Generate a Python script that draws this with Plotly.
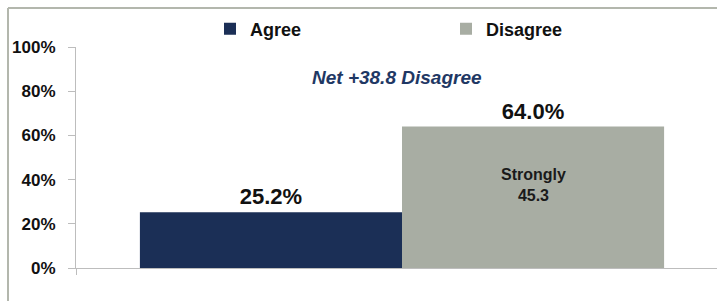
import plotly.graph_objects as go

# ---- data ----
categories = ["Agree", "Disagree"]
values = [25.2, 64.0]
value_labels = ["25.2%", "64.0%"]
colors = ["#1b2f56", "#a8ada3"]
net_label = "Net +38.8 Disagree"
strongly_label = "Strongly<br>45.3"
y_ticks = [0, 20, 40, 60, 80, 100]
y_tick_labels = ["0%", "20%", "40%", "60%", "80%", "100%"]
group = ["Response"]

W, H = 717, 301
L, R, T, B = 76, 0, 47, 33
bargap = 0.196
FONT = "Liberation Sans, Arial"

fig = go.Figure()
for name, v, lab, c in zip(categories, values, value_labels, colors):
    fig.add_trace(go.Bar(
        x=group, y=[v], name=name, marker=dict(color=c, line=dict(width=0)),
        text=[lab], textposition="outside", cliponaxis=False,
        textfont=dict(family=FONT, size=22, color="#111111", weight="bold"),
    ))

pw = W - L - R
ph = H - T - B
fig.update_layout(
    width=W, height=H,
    margin=dict(l=L, r=R, t=T, b=B, pad=0, autoexpand=False),
    paper_bgcolor="white", plot_bgcolor="white",
    barmode="group", bargap=bargap, bargroupgap=0,
    font=dict(family=FONT, color="#111111"),
    legend=dict(orientation="h", x=(210 - L) / pw, xanchor="left",
                y=1 + (T - 29) / ph, yanchor="middle",
                font=dict(size=18, family=FONT, weight="bold"),
                entrywidth=191, itemwidth=30, bgcolor="rgba(0,0,0,0)"),
    xaxis=dict(type="category", range=[-0.5, -0.5 + pw / 652], showline=True,
               linecolor="#bdbdbd", linewidth=1, ticks="outside", tickson="boundaries",
               ticklen=6, tickcolor="#bdbdbd", showticklabels=False, showgrid=False,
               fixedrange=True),
    yaxis=dict(range=[0, 100], tickvals=y_ticks, ticktext=y_tick_labels,
               showline=True, linecolor="#bdbdbd", linewidth=1, ticks="outside",
               ticklen=7, tickcolor="#bdbdbd", showgrid=False, zeroline=False,
               ticklabelstandoff=9, fixedrange=True,
               tickfont=dict(size=17, family=FONT, weight="bold", color="#111111")),
)

fig.add_annotation(text=net_label, xref="paper", yref="paper",
                   x=(397 - L) / pw, y=1 - (77 - T) / ph, showarrow=False,
                   xanchor="center", yanchor="middle",
                   font=dict(size=19, family=FONT, color="#1f3864",
                             weight="bold", style="italic"))

fig.add_annotation(text=strongly_label, xref="x", yref="y",
                   x=(1 - bargap) / 4, y=37.5, showarrow=False,
                   xanchor="center", yanchor="middle",
                   font=dict(size=16, family=FONT, color="#1a1a1a", weight="bold"))

# outer chart frame (top and left edges visible)
bx = (8 - L) / pw
by = 1 + (T - 8) / ph
fig.add_shape(type="line", xref="paper", yref="paper", x0=bx, x1=1.05, y0=by, y1=by,
              line=dict(color="#b3b7ad", width=2), layer="below")
fig.add_shape(type="line", xref="paper", yref="paper", x0=bx, x1=bx, y0=-0.3, y1=by,
              line=dict(color="#b3b7ad", width=2), layer="below")

fig.write_html("out.html", config={"displayModeBar": False},
               post_script="document.body.style.margin='0';"
                           "document.body.style.overflow='hidden';")
